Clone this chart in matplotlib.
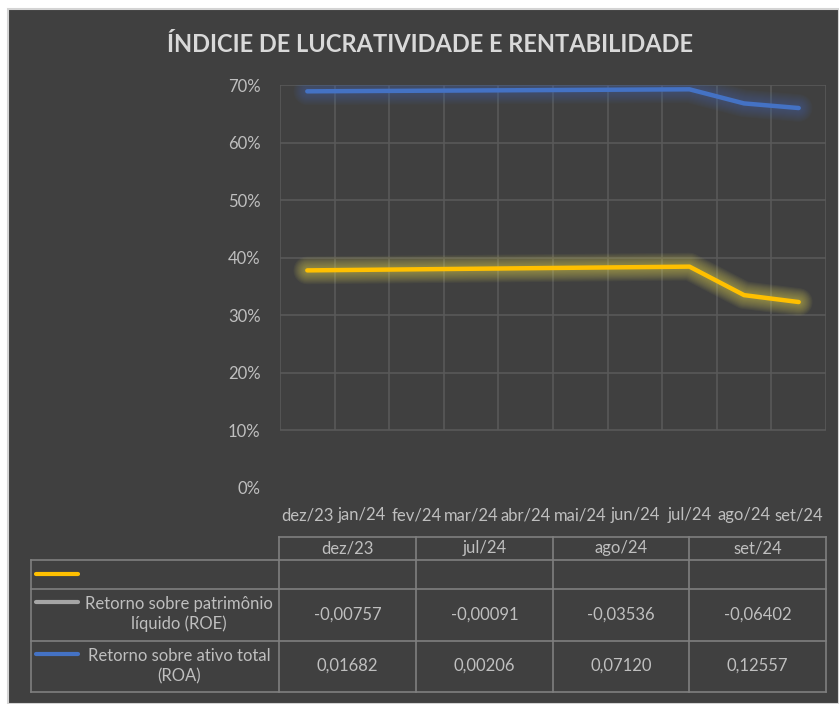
import matplotlib.pyplot as plt
import numpy as np
from matplotlib.patches import Rectangle

plt.rcParams['font.family'] = ['Lato', 'DejaVu Sans']

# categorias do eixo x
meses = ["dez/23", "jan/24", "fev/24", "mar/24", "abr/24", "mai/24",
         "jun/24", "jul/24", "ago/24", "set/24"]

# meses que tem valor (os outros ficam vazios e a linha liga os pontos)
meses_dados = ["dez/23", "jul/24", "ago/24", "set/24"]

# valores (%)
serie_azul = [68.9, 69.25, 66.8, 66.0]
serie_amarela = [37.8, 38.45, 33.5, 32.3]

# valores da tabela
roe = [-0.00757, -0.00091, -0.03536, -0.06402]
roa = [0.01682, 0.00206, 0.07120, 0.12557]
rotulo_roe = "Retorno sobre patrimônio\nlíquido (ROE)"
rotulo_roa = "Retorno sobre ativo total\n(ROA)"

fundo = "#404040"
texto = "#bfbfbf"
grade = "#595959"
borda_tab = "#7f7f7f"
azul = "#4472c4"
amarelo = "#ffc000"
fs = 12

W, H = 839, 704
fig = plt.figure(figsize=(W / 100, H / 100), dpi=100, facecolor="white")
fig.patches.append(Rectangle((8 / W, 0), (W - 8) / W, (H - 9) / H,
                             transform=fig.transFigure, facecolor=fundo,
                             edgecolor="#d4d4d4", lw=1.5, zorder=-5))

# titulo
fig.text(430 / W, 1 - 45 / H, "ÍNDICIE DE LUCRATIVIDADE E RENTABILIDADE",
         ha="center", va="center", fontsize=17, fontweight="bold",
         color="#d9d9d9")

# area do grafico
ax = fig.add_axes([280 / W, 1 - 488 / H, 546 / W, 403 / H])
ax.set_facecolor("none")
ax.set_xlim(-0.5, len(meses) - 0.5)
ax.set_ylim(0, 70)

# grade (linhas entre as categorias)
ax.hlines(np.arange(10, 71, 10), -0.5, len(meses) - 0.5, color=grade, lw=1.2, zorder=1)
ax.vlines(np.arange(-0.5, len(meses), 1), 10, 70, color=grade, lw=1.2, zorder=1)

x = [meses.index(m) for m in meses_dados]

# efeito de brilho (varias camadas bem transparentes)
for lw in np.arange(20, 4, -1.5):
    ax.plot(x, serie_azul, color="#4a6fb8", lw=lw, alpha=0.045, solid_capstyle="round",
            solid_joinstyle="round", zorder=2)
    ax.plot(x, serie_amarela, color="#d9cf55", lw=lw, alpha=0.06, solid_capstyle="round",
            solid_joinstyle="round", zorder=2)

ax.plot(x, serie_azul, color=azul, lw=3.2, solid_capstyle="round", solid_joinstyle="round", zorder=3)
ax.plot(x, serie_amarela, color=amarelo, lw=3.2, solid_capstyle="round", solid_joinstyle="round", zorder=3)

ax.set_yticks(np.arange(0, 71, 10))
ax.set_yticklabels([f"{v}%" for v in range(0, 71, 10)])
ax.set_xticks(range(len(meses)))
ax.set_xticklabels(meses)
ax.tick_params(axis="both", length=0, colors=texto, labelsize=fs)
ax.tick_params(axis="y", pad=14)
ax.tick_params(axis="x", pad=14)
for s in ax.spines.values():
    s.set_visible(False)

# tabela de dados
tab = fig.add_axes([0, 0, 1, 1])
tab.set_xlim(0, W)
tab.set_ylim(H, 0)
tab.axis("off")
tab.patch.set_alpha(0)

cols = [279, 416, 553, 689, 826]
linhas = [537, 560, 589, 641, 692]
tab.plot([cols[0], cols[-1]], [linhas[0]] * 2, color=borda_tab, lw=1.2)
for y in linhas[1:]:
    tab.plot([31, cols[-1]], [y, y], color=borda_tab, lw=1.2)
for c in cols:
    tab.plot([c, c], [linhas[0], linhas[-1]], color=borda_tab, lw=1.2)
tab.plot([31, 31], [linhas[1], linhas[-1]], color=borda_tab, lw=1.2)

def fmt(v):
    return f"{v:.5f}".replace(".", ",")

for i, m in enumerate(meses_dados):
    cx = (cols[i] + cols[i + 1]) / 2
    tab.text(cx, 548, m, ha="center", va="center", color=texto, fontsize=fs)
    tab.text(cx, 615, fmt(roe[i]), ha="center", va="center", color=texto, fontsize=fs)
    tab.text(cx, 666, fmt(roa[i]), ha="center", va="center", color=texto, fontsize=fs)

# chaves da legenda
tab.plot([36, 78], [574, 574], color=amarelo, lw=3, solid_capstyle="round")
tab.plot([36, 78], [602, 602], color="#a5a5a5", lw=3, solid_capstyle="round")
tab.plot([36, 78], [654, 654], color=azul, lw=3, solid_capstyle="round")
tab.text(179, 614, rotulo_roe, ha="center", va="center", color=texto,
         fontsize=fs, multialignment="center", linespacing=1.3)
tab.text(179, 666, rotulo_roa, ha="center", va="center", color=texto,
         fontsize=fs, multialignment="center", linespacing=1.3)

fig.savefig("out.png", dpi=100, facecolor="white")
